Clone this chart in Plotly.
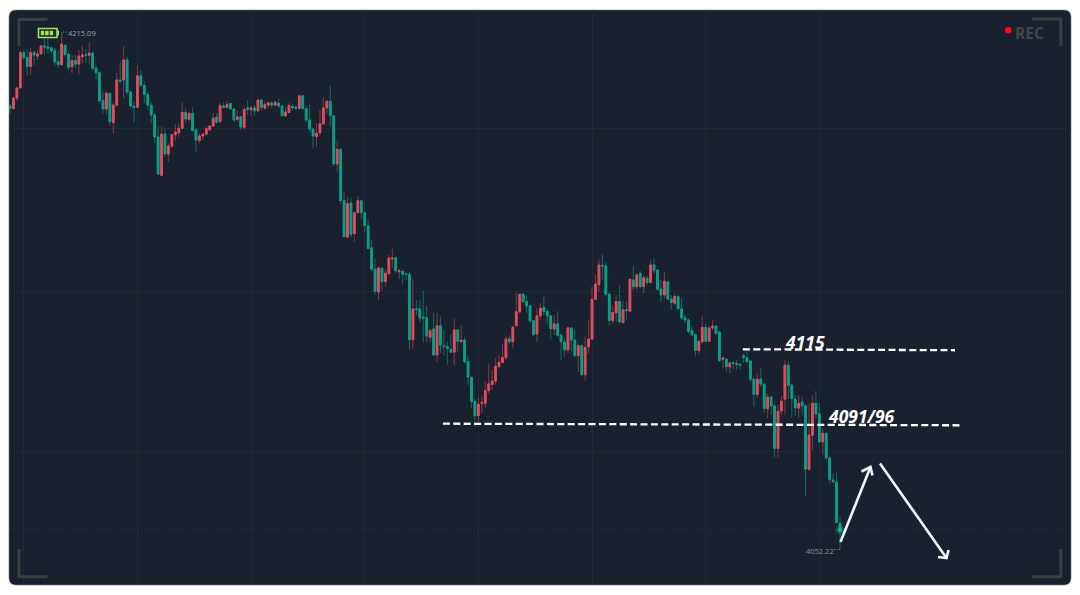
import plotly.graph_objects as go

# OHLC series, oldest candle first
opens = [
    4191.8, 4191.0, 4194.3, 4197.5, 4208.6, 4207.1, 4204.2, 4208.6, 4207.5, 4208.2,
    4210.7, 4210.4, 4210.1, 4209.2, 4205.7, 4204.8, 4210.9, 4208.0, 4204.2, 4206.1,
    4205.0, 4207.3, 4207.9, 4207.7, 4208.4, 4203.7, 4202.3, 4193.5, 4190.9, 4195.8,
    4186.6, 4192.1, 4200.0, 4200.0, 4206.3, 4196.2, 4191.8, 4191.4, 4201.3, 4198.3,
    4195.4, 4192.1, 4189.0, 4182.1, 4170.0, 4183.0, 4176.7, 4179.2, 4182.8, 4183.4,
    4184.8, 4189.8, 4187.6, 4189.5, 4184.3, 4181.0, 4182.4, 4183.0, 4184.3, 4185.5,
    4188.3, 4186.9, 4191.8, 4191.4, 4192.6, 4190.9, 4187.6, 4188.4, 4185.1, 4191.2,
    4190.6, 4191.2, 4190.3, 4193.7, 4191.1, 4192.1, 4192.7, 4192.1, 4192.7, 4191.8,
    4188.7, 4189.8, 4191.7, 4191.5, 4191.0, 4195.0, 4191.0, 4187.4, 4184.5, 4182.2,
    4183.4, 4186.2, 4191.2, 4193.3, 4188.7, 4173.6, 4178.2, 4162.1, 4150.6, 4161.3,
    4151.7, 4158.3, 4162.0, 4158.2, 4154.1, 4147.2, 4140.5, 4133.3, 4140.7, 4136.6,
    4139.1, 4143.7, 4144.1, 4139.7, 4139.8, 4139.0, 4138.8, 4118.3, 4128.0, 4128.0,
    4125.4, 4125.2, 4119.1, 4121.7, 4113.5, 4122.7, 4116.4, 4116.1, 4115.3, 4114.4,
    4121.4, 4117.7, 4118.2, 4111.5, 4106.5, 4098.9, 4094.4, 4098.3, 4098.3, 4102.3,
    4104.2, 4105.3, 4109.9, 4111.2, 4112.7, 4118.6, 4117.7, 4122.7, 4127.1, 4132.6,
    4130.3, 4128.9, 4124.3, 4120.1, 4125.8, 4128.5, 4127.2, 4125.8, 4121.7, 4123.3,
    4119.7, 4117.6, 4115.1, 4122.0, 4118.2, 4113.3, 4116.4, 4107.3, 4116.1, 4118.5,
    4131.0, 4135.6, 4141.7, 4141.5, 4132.6, 4124.3, 4126.8, 4130.3, 4123.7, 4127.7,
    4127.3, 4137.1, 4135.0, 4139.2, 4135.0, 4137.6, 4136.3, 4141.8, 4140.2, 4134.2,
    4132.4, 4136.5, 4131.1, 4129.8, 4131.9, 4128.0, 4125.2, 4124.5, 4121.2, 4119.9,
    4114.9, 4117.7, 4122.2, 4117.8, 4122.0, 4122.6, 4120.7, 4112.2, 4112.2, 4109.8,
    4111.1, 4110.8, 4110.5, 4113.3, 4112.6, 4111.6, 4105.9, 4101.1, 4105.9, 4104.3,
    4096.6, 4100.3, 4097.5, 4084.1, 4095.9, 4099.6, 4110.3, 4104.0, 4099.6, 4096.8,
    4098.7, 4097.5, 4077.6, 4088.3, 4098.3, 4095.0, 4086.2, 4088.9, 4081.1, 4074.2,
    4073.5, 4060.6,
]
closes = [
    4191.0, 4194.3, 4197.5, 4208.6, 4207.1, 4204.2, 4208.6, 4207.8, 4208.2, 4210.7,
    4210.4, 4209.9, 4209.2, 4205.7, 4204.8, 4211.3, 4208.0, 4204.0, 4206.1, 4205.0,
    4207.5, 4207.9, 4207.8, 4208.5, 4203.7, 4202.3, 4193.5, 4190.9, 4195.8, 4186.9,
    4192.1, 4200.0, 4199.7, 4206.3, 4196.2, 4191.8, 4191.4, 4201.3, 4198.3, 4195.4,
    4192.1, 4189.0, 4182.1, 4170.4, 4183.0, 4176.7, 4179.2, 4182.8, 4183.6, 4184.8,
    4189.8, 4187.7, 4189.5, 4184.1, 4181.1, 4182.4, 4183.0, 4184.7, 4185.5, 4188.0,
    4186.7, 4192.0, 4191.4, 4192.3, 4190.9, 4187.4, 4188.4, 4185.2, 4190.7, 4190.7,
    4191.2, 4190.3, 4193.7, 4191.4, 4192.3, 4192.8, 4192.1, 4193.0, 4191.8, 4188.8,
    4189.9, 4192.0, 4191.3, 4191.1, 4195.0, 4191.0, 4187.4, 4184.5, 4182.4, 4183.2,
    4186.2, 4191.2, 4193.3, 4188.8, 4173.6, 4178.2, 4162.1, 4150.7, 4161.1, 4151.5,
    4158.2, 4162.0, 4158.3, 4154.2, 4147.0, 4140.5, 4133.5, 4140.9, 4136.6, 4139.2,
    4144.0, 4144.0, 4140.0, 4140.0, 4138.9, 4138.8, 4118.3, 4128.0, 4127.8, 4125.2,
    4125.1, 4119.5, 4121.1, 4113.5, 4122.7, 4116.7, 4116.2, 4115.5, 4114.4, 4121.4,
    4117.8, 4118.2, 4111.4, 4106.6, 4098.9, 4094.4, 4098.0, 4098.6, 4102.3, 4104.4,
    4105.3, 4109.9, 4111.2, 4112.7, 4118.5, 4117.7, 4122.2, 4127.1, 4132.6, 4130.3,
    4128.9, 4124.3, 4119.9, 4125.8, 4128.2, 4127.2, 4125.8, 4121.8, 4123.3, 4119.7,
    4117.7, 4115.1, 4122.0, 4118.2, 4113.3, 4116.4, 4107.3, 4115.9, 4118.5, 4131.0,
    4135.8, 4141.8, 4141.5, 4132.6, 4124.4, 4126.9, 4130.3, 4123.9, 4127.7, 4127.5,
    4137.3, 4135.0, 4138.7, 4135.0, 4137.8, 4136.3, 4141.8, 4140.2, 4134.2, 4132.4,
    4136.7, 4131.1, 4130.0, 4131.9, 4128.1, 4125.2, 4124.5, 4121.0, 4119.9, 4114.9,
    4117.8, 4122.2, 4117.8, 4122.0, 4122.6, 4120.3, 4111.7, 4112.5, 4109.8, 4111.0,
    4110.9, 4110.5, 4110.3, 4112.7, 4111.5, 4105.9, 4101.1, 4105.9, 4104.4, 4096.7,
    4100.3, 4097.5, 4084.1, 4095.8, 4099.0, 4110.3, 4104.0, 4099.8, 4096.9, 4098.3,
    4097.5, 4077.6, 4088.3, 4098.3, 4095.0, 4086.2, 4088.9, 4081.1, 4074.4, 4073.6,
    4060.8, 4058.5,
]
highs = [
    4192.5, 4194.8, 4197.7, 4209.4, 4209.4, 4209.4, 4210.0, 4209.4, 4209.4, 4211.0,
    4213.1, 4213.1, 4210.5, 4210.0, 4209.4, 4215.09, 4211.3, 4208.9, 4207.9, 4207.9,
    4209.4, 4210.8, 4209.6, 4211.7, 4208.9, 4204.7, 4202.6, 4196.3, 4196.6, 4196.0,
    4192.7, 4202.1, 4205.7, 4210.7, 4207.3, 4196.6, 4193.2, 4204.7, 4203.1, 4199.5,
    4196.3, 4193.2, 4189.5, 4185.3, 4185.3, 4184.8, 4180.1, 4183.0, 4186.1, 4186.4,
    4193.1, 4191.1, 4190.0, 4191.4, 4184.8, 4183.2, 4183.2, 4185.3, 4185.8, 4189.7,
    4189.5, 4192.7, 4192.9, 4193.4, 4192.7, 4191.1, 4190.6, 4188.7, 4191.6, 4193.7,
    4191.8, 4192.1, 4193.9, 4193.9, 4193.2, 4193.2, 4193.4, 4193.4, 4194.2, 4192.1,
    4191.4, 4192.7, 4192.4, 4192.0, 4195.2, 4195.3, 4192.1, 4192.4, 4185.1, 4186.4,
    4190.6, 4194.5, 4193.7, 4198.2, 4189.0, 4180.9, 4178.5, 4164.9, 4163.1, 4163.1,
    4158.6, 4163.5, 4162.3, 4158.6, 4156.0, 4149.7, 4144.0, 4141.3, 4141.3, 4140.3,
    4145.0, 4146.9, 4144.5, 4140.8, 4140.3, 4139.7, 4139.7, 4137.3, 4130.8, 4130.8,
    4133.7, 4128.9, 4121.9, 4126.8, 4126.6, 4125.6, 4121.2, 4117.7, 4120.1, 4124.9,
    4121.6, 4122.9, 4119.3, 4113.2, 4106.7, 4099.9, 4099.9, 4100.4, 4105.2, 4110.9,
    4108.8, 4112.5, 4113.5, 4116.9, 4119.3, 4119.8, 4122.7, 4133.3, 4132.9, 4132.9,
    4132.4, 4129.3, 4124.5, 4128.2, 4129.8, 4131.9, 4128.2, 4126.1, 4126.1, 4127.3,
    4120.3, 4118.8, 4122.4, 4122.2, 4121.6, 4117.2, 4116.9, 4119.3, 4124.5, 4135.0,
    4138.7, 4143.6, 4145.2, 4142.5, 4133.1, 4128.9, 4132.4, 4135.5, 4130.6, 4130.3,
    4137.6, 4141.5, 4139.2, 4139.9, 4138.4, 4138.4, 4143.4, 4143.9, 4140.4, 4137.1,
    4139.7, 4136.9, 4132.4, 4132.9, 4132.4, 4131.3, 4126.1, 4125.0, 4122.4, 4120.3,
    4118.2, 4125.8, 4123.3, 4122.6, 4124.5, 4122.9, 4121.2, 4113.0, 4112.5, 4111.4,
    4111.4, 4111.9, 4111.1, 4114.0, 4114.6, 4111.9, 4106.2, 4107.7, 4109.3, 4104.6,
    4101.5, 4100.4, 4098.3, 4097.8, 4100.6, 4112.1, 4111.6, 4104.6, 4100.9, 4100.9,
    4100.4, 4097.8, 4098.3, 4100.9, 4102.2, 4098.5, 4090.5, 4089.1, 4081.5, 4076.3,
    4076.6, 4062.7,
]
lows = [
    4189.3, 4190.6, 4193.2, 4197.4, 4206.3, 4201.3, 4201.6, 4204.7, 4206.3, 4207.9,
    4207.9, 4208.4, 4208.4, 4204.4, 4203.9, 4204.5, 4207.3, 4203.1, 4202.1, 4203.7,
    4201.7, 4205.2, 4205.4, 4205.2, 4203.1, 4200.0, 4192.7, 4189.5, 4189.0, 4185.5,
    4183.2, 4191.6, 4199.0, 4194.2, 4195.3, 4191.1, 4186.6, 4191.1, 4197.7, 4192.7,
    4190.6, 4186.4, 4180.1, 4170.1, 4169.8, 4175.9, 4174.3, 4178.5, 4180.9, 4182.0,
    4184.3, 4186.4, 4186.9, 4183.8, 4177.2, 4180.1, 4181.1, 4182.4, 4184.0, 4185.3,
    4186.2, 4186.4, 4191.1, 4191.1, 4190.6, 4186.9, 4186.9, 4184.3, 4184.5, 4189.0,
    4188.7, 4188.7, 4189.7, 4190.4, 4190.6, 4191.3, 4191.1, 4191.6, 4191.1, 4188.5,
    4188.5, 4189.5, 4190.6, 4190.6, 4190.8, 4190.6, 4186.6, 4183.4, 4178.5, 4179.0,
    4182.4, 4185.8, 4189.5, 4185.3, 4172.8, 4170.9, 4161.0, 4150.5, 4150.2, 4150.5,
    4149.2, 4157.9, 4156.2, 4152.2, 4146.6, 4139.7, 4132.4, 4130.8, 4133.8, 4135.0,
    4138.7, 4140.8, 4139.2, 4137.3, 4135.7, 4137.1, 4115.1, 4115.5, 4126.1, 4123.7,
    4117.4, 4117.4, 4117.4, 4113.2, 4111.4, 4114.1, 4113.5, 4110.4, 4114.1, 4110.4,
    4114.6, 4117.2, 4110.7, 4104.1, 4096.8, 4091.0, 4092.1, 4095.2, 4096.8, 4101.5,
    4102.5, 4104.1, 4109.3, 4110.9, 4112.0, 4116.7, 4115.6, 4122.4, 4126.6, 4129.8,
    4126.6, 4123.5, 4119.5, 4117.7, 4124.5, 4126.1, 4123.5, 4118.4, 4119.8, 4119.3,
    4111.9, 4113.0, 4114.0, 4114.6, 4112.8, 4108.3, 4106.9, 4105.4, 4114.0, 4118.2,
    4130.8, 4133.4, 4137.1, 4131.9, 4122.9, 4123.3, 4124.0, 4123.5, 4123.3, 4124.5,
    4126.8, 4134.0, 4134.0, 4134.5, 4132.9, 4135.5, 4136.0, 4139.2, 4133.7, 4130.3,
    4131.3, 4130.8, 4127.9, 4129.2, 4127.9, 4124.5, 4123.3, 4120.3, 4119.3, 4113.0,
    4114.0, 4117.0, 4117.7, 4117.6, 4121.4, 4119.8, 4111.4, 4109.3, 4108.3, 4107.8,
    4109.0, 4108.8, 4108.8, 4111.1, 4111.1, 4105.1, 4097.3, 4099.9, 4103.6, 4095.2,
    4093.6, 4094.6, 4081.3, 4081.2, 4094.6, 4094.6, 4099.6, 4093.9, 4094.3, 4093.8,
    4094.6, 4069.0, 4077.1, 4083.6, 4093.6, 4085.9, 4082.1, 4080.7, 4072.9, 4073.2,
    4060.6, 4052.22,
]
index = list(range(len(closes)))

# Session extremes and drawn levels
session_high = 4215.09
session_low = 4052.22
upper_level = ("4115", [212.8, 274.4], [4115.3, 4115.0])
lower_level = ("4091/96", [125.7, 275.8], [4091.9, 4091.4])
grid_prices = [4184.6, 4133.6, 4083.0]
grid_bars = [4, 37, 70, 103, 136, 169, 202, 235]

# Palette
PANEL = "#1a212e"
GRID = "#1f2b34"
GREEN = "#0a9f87"
RED = "#e04c5e"
GREEN_WICK = "rgba(10,156,133,0.6)"
RED_WICK = "rgba(221,74,92,0.55)"
FRAME = "#3c3d3f"
BATTERY = "#a0e35c"

W, H = 1080, 595
LEFT, RIGHT, TOP, BOTTOM = 9, 1071, 10, 585


def px(x):
    return (x - LEFT) / (RIGHT - LEFT)


def py(y):
    return (BOTTOM - y) / (BOTTOM - TOP)


def pixel_path(points, close=False):
    body = " L ".join(f"{px(x):.5f} {py(y):.5f}" for x, y in points)
    return f"M {body}" + (" Z" if close else "")


def overlay_shape(points, color, width, close=False, fill=None, layer="above"):
    return dict(
        type="path", xref="paper", yref="paper", path=pixel_path(points, close),
        line=dict(color=color, width=width), fillcolor=fill, layer=layer,
    )


def rect_px(x0, y0, x1, y1, fill, line=None, width=0):
    return dict(
        type="rect", xref="paper", yref="paper",
        x0=px(x0), x1=px(x1), y0=py(y1), y1=py(y0),
        fillcolor=fill, line=dict(color=line or fill, width=width),
    )


fig = go.Figure()

# Wicks go first in a muted tone, with the solid bodies stacked on top
fig.add_trace(go.Candlestick(
    x=index, open=opens, high=highs, low=lows, close=closes,
    increasing=dict(line=dict(color=RED_WICK, width=1), fillcolor=RED_WICK),
    decreasing=dict(line=dict(color=GREEN_WICK, width=1), fillcolor=GREEN_WICK),
    whiskerwidth=0, hoverinfo="skip", showlegend=False,
))
fig.add_trace(go.Candlestick(
    x=index, open=opens, close=closes,
    high=[max(o, c) for o, c in zip(opens, closes)],
    low=[min(o, c) for o, c in zip(opens, closes)],
    increasing=dict(line=dict(color=RED, width=1), fillcolor=RED),
    decreasing=dict(line=dict(color=GREEN, width=1), fillcolor=GREEN),
    whiskerwidth=0, hoverinfo="skip", showlegend=False,
))

# Glow on the most recent price
fig.add_trace(go.Scatter(
    x=[index[-1]], y=[closes[-1]], mode="markers", hoverinfo="skip", showlegend=False,
    marker=dict(size=9, color="rgba(16,190,160,0.3)"),
))
fig.add_trace(go.Scatter(
    x=[index[-1]], y=[closes[-1]], mode="markers", hoverinfo="skip", showlegend=False,
    marker=dict(size=4, color="#12b89a"),
))

shapes = []

# Rounded dark panel behind everything
r = 7
panel = (
    f"M {px(LEFT + r):.5f} {py(TOP):.5f} L {px(RIGHT - r):.5f} {py(TOP):.5f} "
    f"Q {px(RIGHT):.5f} {py(TOP):.5f} {px(RIGHT):.5f} {py(TOP + r):.5f} "
    f"L {px(RIGHT):.5f} {py(BOTTOM - r):.5f} "
    f"Q {px(RIGHT):.5f} {py(BOTTOM):.5f} {px(RIGHT - r):.5f} {py(BOTTOM):.5f} "
    f"L {px(LEFT + r):.5f} {py(BOTTOM):.5f} "
    f"Q {px(LEFT):.5f} {py(BOTTOM):.5f} {px(LEFT):.5f} {py(BOTTOM - r):.5f} "
    f"L {px(LEFT):.5f} {py(TOP + r):.5f} "
    f"Q {px(LEFT):.5f} {py(TOP):.5f} {px(LEFT + r):.5f} {py(TOP):.5f} Z"
)
shapes.append(dict(
    type="path", xref="paper", yref="paper", path=panel, layer="below",
    fillcolor=PANEL, line=dict(color="#70757c", width=0.6),
))

# Last-price guide
shapes.append(dict(
    type="line", xref="paper", yref="y", x0=0, x1=1, y0=closes[-1], y1=closes[-1],
    line=dict(color="rgba(16,150,130,0.3)", width=1, dash="1px,2px"), layer="below",
))

# Hand-drawn support and resistance levels
for _, xs, ys in (upper_level, lower_level):
    shapes.append(dict(
        type="line", xref="x", yref="y", x0=xs[0], x1=xs[1], y0=ys[0], y1=ys[1],
        line=dict(color="#ffffff", width=2.3, dash="7px,3.4px"),
    ))

# Projected path arrows
white = "#f6f7f8"
shapes.append(overlay_shape([(840.5, 542), (870.5, 467)], white, 2.6))
shapes.append(overlay_shape([(861.5, 471.5), (870.5, 467), (872.5, 475.5)], white, 2.6))
shapes.append(overlay_shape([(880, 463.5), (946.5, 558)], white, 2.6))
shapes.append(overlay_shape([(938, 557), (946.5, 558), (948.5, 550)], white, 2.6))

# Viewfinder corners
frame = 3
shapes.append(overlay_shape([(47.5, 19.5), (19, 19.5), (19, 46.5)], FRAME, frame))
shapes.append(overlay_shape([(1032, 19), (1060.8, 19), (1060.8, 46.5)], FRAME, frame))
shapes.append(overlay_shape([(19, 549), (19, 576.7), (47.5, 576.7)], FRAME, frame))
shapes.append(overlay_shape([(1032, 576.7), (1060.8, 576.7), (1060.8, 549)], FRAME, frame))

# Battery badge
shapes.append(rect_px(38.5, 28.5, 57, 37.5, "#1c2a22", BATTERY, 1.6))
shapes.append(rect_px(57.4, 30.5, 59, 35.5, BATTERY))
for left in (40.8, 45.2, 49.7):
    shapes.append(rect_px(left, 30.8, left + 3.4, 35.2, BATTERY))

# Recording indicator
shapes.append(dict(
    type="circle", xref="paper", yref="paper",
    x0=px(1005), x1=px(1011.5), y0=py(33.5), y1=py(27),
    fillcolor="#ff0a10", line=dict(width=0),
))

# Dotted leaders beside the extreme-price labels
leader = dict(color="#7d8289", width=1, dash="1px,1.5px")
shapes.append(dict(type="line", xref="paper", yref="paper",
                   x0=px(63), x1=px(68), y0=py(32), y1=py(32), line=leader))
shapes.append(dict(type="line", xref="paper", yref="paper",
                   x0=px(834), x1=px(840), y0=py(549.5), y1=py(549.5), line=leader))


def label(text, x, y, size, color, anchor="left"):
    return dict(
        text=text, xref="paper", yref="paper", x=px(x), y=py(y),
        xanchor=anchor, yanchor="middle", showarrow=False, borderpad=0, borderwidth=0,
        font=dict(family="Open Sans", size=size, color=color),
    )


annotations = [
    label(f"{session_high:.2f}", 67.5, 33, 7.5, "#9a9fa6"),
    label(f"{session_low:.2f}", 833.5, 551, 7.5, "#8b9097", anchor="right"),
    label(f"<b><i>{upper_level[0]}</i></b>", 784.5, 342, 17.5, "#ffffff"),
    label(f"<b><i>{lower_level[0]}</i></b>", 828, 416, 17.5, "#ffffff"),
    label("<b>REC</b>", 1015, 33.5, 15.5, "#424448"),
]

fig.update_layout(
    width=W, height=H,
    margin=dict(l=LEFT, r=W - RIGHT, t=TOP, b=H - BOTTOM, pad=0),
    paper_bgcolor="#ffffff", plot_bgcolor="rgba(0,0,0,0)",
    showlegend=False, boxmode="overlay", boxgap=0.3,
    shapes=shapes, annotations=annotations,
    xaxis=dict(
        range=[(LEFT - 10) / 3.444, (RIGHT - 10) / 3.444],
        rangeslider=dict(visible=False),
        tickmode="array", tickvals=grid_bars, showticklabels=False, ticks="",
        showgrid=True, gridcolor=GRID, gridwidth=1, zeroline=False, showline=False,
    ),
    yaxis=dict(
        range=[4225.15 - 0.3145 * BOTTOM, 4225.15 - 0.3145 * TOP],
        tickmode="array", tickvals=grid_prices, showticklabels=False, ticks="",
        showgrid=True, gridcolor=GRID, gridwidth=1, zeroline=False, showline=False,
    ),
)

fig.write_html("out.html", config=dict(displayModeBar=False))
